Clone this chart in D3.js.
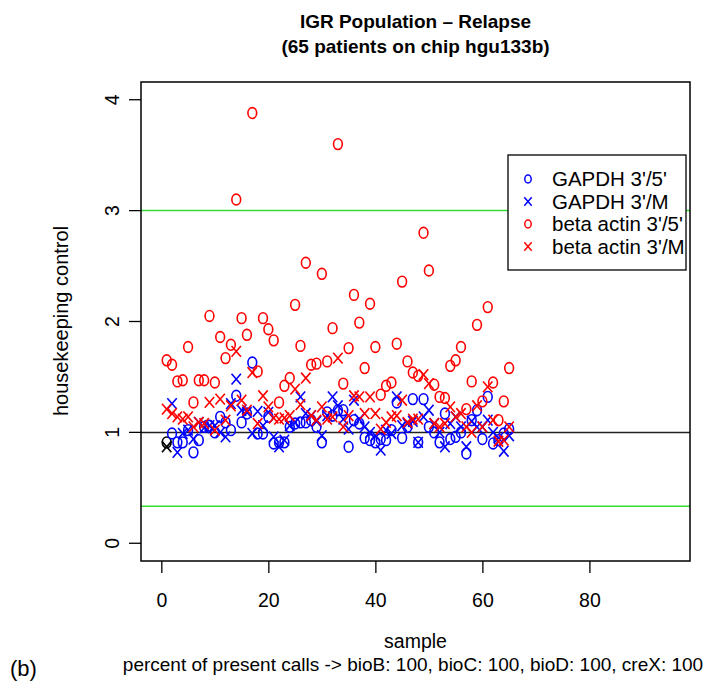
<!DOCTYPE html>
<html><head><meta charset="utf-8">
<script src="https://cdn.jsdelivr.net/npm/d3@7"></script>
<style>body{margin:0;background:#fff}svg{display:block}text{font-family:"Liberation Sans",Arial,sans-serif}</style>
</head><body>
<script>
const gapdh35 = [0.91,0.99,0.91,0.91,1.02,0.82,0.93,1.05,1.06,1.00,1.14,1.09,1.02,1.33,1.09,1.17,1.63,0.99,0.99,1.14,0.90,0.91,0.91,1.05,1.08,1.09,1.09,1.11,1.05,0.91,1.18,1.15,1.20,1.20,0.87,1.11,1.08,0.95,0.93,0.91,0.94,0.93,1.02,1.27,0.95,1.05,1.30,0.91,1.30,1.05,1.00,0.91,1.17,0.94,0.96,1.00,0.81,1.11,1.20,0.94,1.32,0.90,0.93,0.99,1.03];
const gapdh3M = [0.87,1.26,0.82,0.99,1.02,0.94,1.09,1.04,1.06,1.06,1.00,0.96,1.26,1.48,1.20,1.18,0.99,1.19,1.06,1.18,0.96,0.87,0.93,1.06,1.09,1.32,1.17,1.15,1.10,0.97,1.15,1.32,1.24,1.12,1.03,1.29,1.12,1.05,1.00,0.97,0.84,1.02,0.99,1.32,1.06,1.08,1.10,0.91,1.14,1.20,1.08,1.00,0.87,1.08,1.14,1.05,0.87,1.10,1.05,1.05,1.11,1.00,0.95,0.83,0.97];
const actin35 = [1.65,1.61,1.46,1.47,1.77,1.27,1.47,1.47,2.05,1.45,1.86,1.67,1.79,3.10,2.03,1.88,3.88,1.55,2.03,1.93,1.83,1.27,1.42,1.49,2.15,1.78,2.53,1.61,1.62,2.43,1.64,1.94,3.60,1.44,1.76,2.24,1.99,1.58,2.16,1.77,1.34,1.42,1.45,1.80,2.36,1.64,1.54,1.51,2.80,2.46,1.43,1.32,1.31,1.60,1.65,1.77,1.21,1.46,1.97,1.28,2.13,1.45,1.11,1.28,1.58];
const actin3M = [1.21,1.17,1.14,1.12,1.14,1.05,1.09,1.08,1.27,1.02,1.30,1.11,1.24,1.73,1.29,1.20,1.54,1.08,1.33,1.23,1.13,1.12,1.13,1.15,1.39,1.25,1.49,1.15,1.11,1.23,1.12,1.14,1.67,1.05,1.15,1.33,1.32,1.17,1.32,1.17,1.03,1.09,1.14,1.15,1.29,1.09,1.12,1.12,1.52,1.44,1.08,1.05,1.08,1.23,1.14,1.17,1.05,1.00,1.24,1.05,1.41,1.11,0.92,0.93,1.05];
const xTicks = [0,20,40,60,80];
const yTicks = [0,1,2,3,4];
const legendLabels = ["GAPDH 3'/5'","GAPDH 3'/M","beta actin 3'/5'","beta actin 3'/M"];
const legendColors = ["#0000ff","#0000ff","#ff0000","#ff0000"];
const legendShapes = ["o","x","o","x"];
const refLines = [3, 1/3];

const W = 714, H = 687;
const svg = d3.select("body").append("svg").attr("width", W).attr("height", H);
const x = d3.scaleLinear().domain([-3.8, 98.8]).range([141, 690]);
const y = d3.scaleLinear().domain([-0.16, 4.16]).range([561, 82]);
const ink = "#000";

// title
svg.append("text").attr("x", 415.5).attr("y", 28).attr("text-anchor","middle")
  .attr("font-size", 19).attr("font-weight","bold").text("IGR Population \u2013 Relapse");
svg.append("text").attr("x", 415.5).attr("y", 53).attr("text-anchor","middle")
  .attr("font-size", 19).attr("font-weight","bold").text("(65 patients on chip hgu133b)");

// reference lines
svg.selectAll("line.ref").data(refLines).enter().append("line")
  .attr("x1", 141).attr("x2", 690).attr("y1", d => y(d)).attr("y2", d => y(d))
  .attr("stroke", "#33dd33").attr("stroke-width", 1.5);
svg.append("line").attr("x1", 141).attr("x2", 690).attr("y1", y(1)).attr("y2", y(1))
  .attr("stroke", "#222").attr("stroke-width", 1.5);

// axes
const xAxis = svg.append("g").attr("transform", `translate(0,561)`)
  .call(d3.axisBottom(x).tickValues(xTicks).tickSize(12).tickPadding(20).tickFormat(d3.format("d")));
xAxis.select(".domain").remove();
xAxis.selectAll("text").attr("font-size", 19.5).attr("font-family", "Liberation Sans, Arial, sans-serif");
xAxis.selectAll("line").attr("stroke-width", 1.3);
const yAxis = svg.append("g").attr("transform", `translate(141,0)`)
  .call(d3.axisLeft(y).tickValues(yTicks).tickSize(12).tickFormat(d3.format("d")));
yAxis.select(".domain").remove();
yAxis.selectAll("line").attr("stroke-width", 1.3);
yAxis.selectAll(".tick").attr("transform", null);
yAxis.selectAll(".tick line").attr("transform", d => `translate(0,${y(d)})`);
yAxis.selectAll("text").attr("font-size", 19.5).attr("font-family", "Liberation Sans, Arial, sans-serif")
  .attr("text-anchor","middle").attr("x", 0).attr("y", 0).attr("dy", "0.35em")
  .attr("transform", d => `translate(-29,${y(d)}) rotate(-90)`);

// box
svg.append("rect").attr("x", 141).attr("y", 82).attr("width", 549).attr("height", 479)
  .attr("fill", "none").attr("stroke", ink).attr("stroke-width", 1.5);

// axis titles
svg.append("text").attr("transform", "translate(68,321) rotate(-90)").attr("text-anchor","middle")
  .attr("font-size", 20).text("housekeeping control");
svg.append("text").attr("x", 415.5).attr("y", 648).attr("text-anchor","middle")
  .attr("font-size", 19.5).text("sample");
svg.append("text").attr("x", 413).attr("y", 671).attr("text-anchor","middle")
  .attr("font-size", 19)
  .text("percent of present calls -> bioB: 100, bioC: 100, bioD: 100, creX: 100");
svg.append("text").attr("x", 10).attr("y", 676).attr("font-size", 22)
  .attr("font-family", "DejaVu Serif, Liberation Serif, serif").text("(b)");

// markers
function drawO(g, cx, cy, col, rx, ry, sw) {
  g.append("ellipse").attr("cx", cx).attr("cy", cy).attr("rx", rx).attr("ry", ry)
    .attr("fill","none").attr("stroke", col).attr("stroke-width", sw);
}
function drawX(g, cx, cy, col, hx, hy, sw) {
  g.append("path").attr("d", `M${cx-hx},${cy-hy}L${cx+hx},${cy+hy}M${cx-hx},${cy+hy}L${cx+hx},${cy-hy}`)
    .attr("stroke", col).attr("stroke-width", sw).attr("fill","none");
}
const pts = svg.append("g");
const series = [
  {vals: gapdh35, shape: "o", col: "#0000ff"},
  {vals: gapdh3M, shape: "x", col: "#0000ff"},
  {vals: actin35, shape: "o", col: "#ff0000"},
  {vals: actin3M, shape: "x", col: "#ff0000"}
];
series.forEach((s, si) => {
  s.vals.forEach((v, i) => {
    const col = (si < 2 && i === 0) ? "#000" : s.col;
    if (s.shape === "o") drawO(pts, x(i+1), y(v), col, 4.4, 5.4, 1.6);
    else drawX(pts, x(i+1), y(v), col, 4.7, 5.4, 1.6);
  });
});

// legend
const lg = svg.append("g");
lg.append("rect").attr("x", 508).attr("y", 155).attr("width", 178).attr("height", 115)
  .attr("fill", "#fff").attr("stroke", ink).attr("stroke-width", 1.3);
legendLabels.forEach((lab, i) => {
  const cy = 179 + i * 22.5;
  if (legendShapes[i] === "o") drawO(lg, 528, cy, legendColors[i], 3.2, 4, 1.5);
  else drawX(lg, 528, cy, legendColors[i], 3.7, 4.3, 1.5);
  lg.append("text").attr("x", 552).attr("y", cy + 7).attr("font-size", 20.5).text(lab);
});
</script>
</body></html>
